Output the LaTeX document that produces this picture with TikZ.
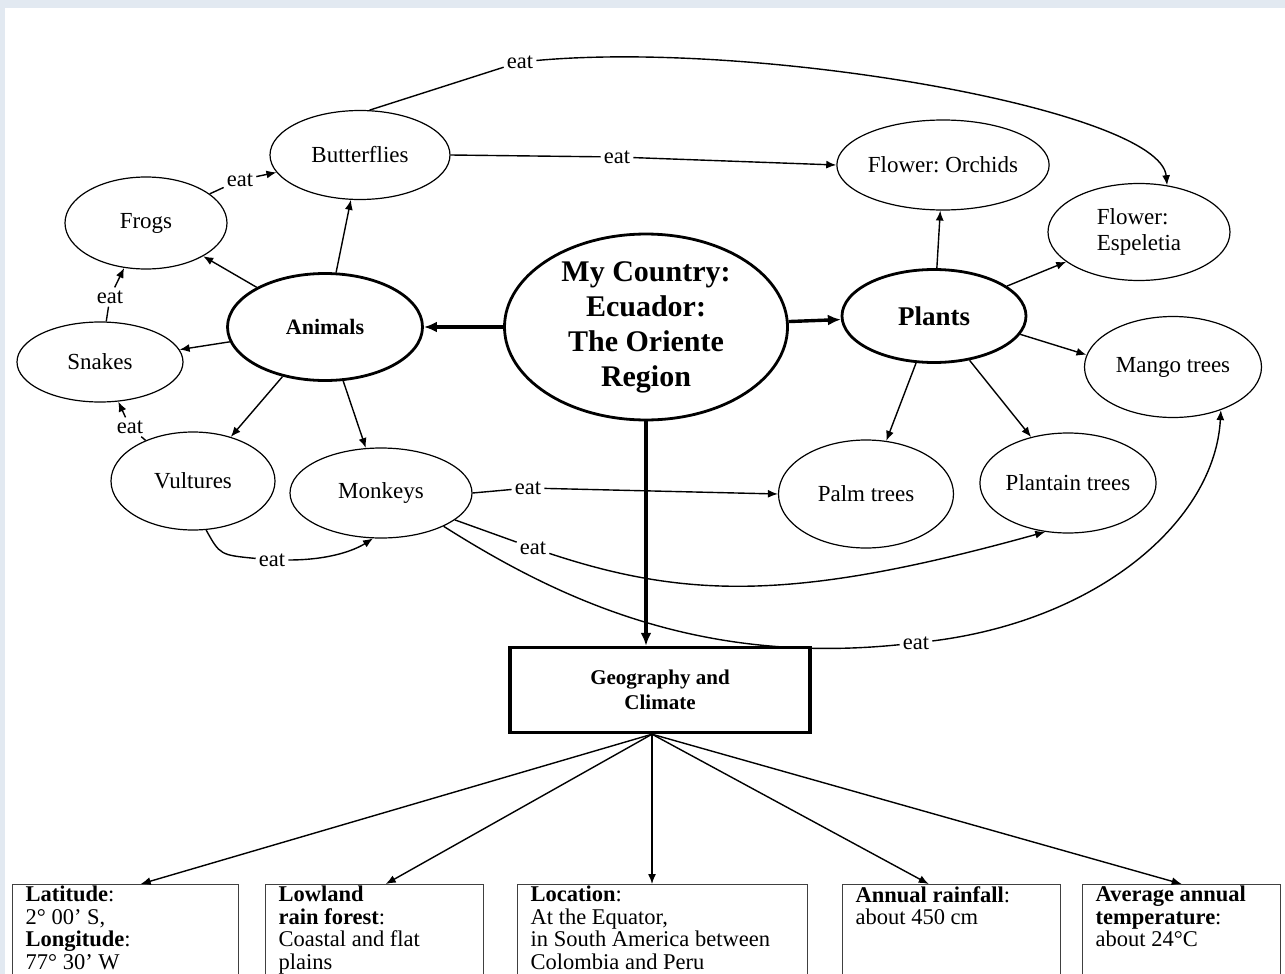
\documentclass[tikz,border=0pt]{standalone}
\usepackage{fontspec}
\setmainfont{Liberation Serif}
\usepackage{xcolor}
\usetikzlibrary{arrows.meta,shapes.geometric}
\definecolor{pagebg}{HTML}{E2E9F1}
\frenchspacing

\begin{document}
\begin{tikzpicture}[x=1pt,y=-1pt,
  ell/.style={ellipse, draw, line width=1.2pt, inner sep=0pt, align=center,
              font=\fontsize{23}{26}\selectfont},
  hub/.style={ell, line width=2.8pt, font=\bfseries\fontsize{22}{26}\selectfont},
  eat/.style={inner sep=3pt, font=\fontsize{22.5}{24}\selectfont},
  link/.style={line width=1.4pt},
  flow/.style={link, -{Latex[length=10pt,width=8pt]}},
  main/.style={line width=3.4pt, -{Latex[length=13pt,width=11pt]}},
  geobox/.style={rectangle, draw, line width=3.4pt, align=center, minimum width=300pt,
                 minimum height=85pt, font=\bfseries\fontsize{21}{25}\selectfont},
  info/.style={rectangle, draw=black!75, line width=1.4pt, anchor=north west,
               inner xsep=13pt, inner ysep=1.5pt, font=\fontsize{22.5}{22.5}\selectfont}
]
\useasboundingbox (0,0) rectangle (1285,974);
\clip (0,0) rectangle (1285,974);
\fill[pagebg] (0,0) rectangle (1285,974);
\fill[white] (5,8) rectangle (1285,974);

\node[hub, minimum width=283pt, minimum height=185pt,
      font=\bfseries\fontsize{30}{35}\selectfont] (country) at (646,327)
      {My Country:\\ Ecuador:\\ The Oriente\\ Region};
\node[hub, minimum width=195pt, minimum height=107pt] (animals) at (325,327) {Animals};
\node[hub, minimum width=184pt, minimum height=93pt,
      font=\bfseries\fontsize{27}{30}\selectfont] (plants) at (934,316) {Plants};
\node[ell, minimum width=180pt, minimum height=89pt] (butter) at (360,155) {Butterflies};
\node[ell, minimum width=162pt, minimum height=92pt] (frogs) at (146,223) {Frogs};
\node[ell, minimum width=166pt, minimum height=80pt] (snakes) at (100,362) {Snakes};
\node[ell, minimum width=164pt, minimum height=98pt] (vult) at (193,481) {Vultures};
\node[ell, minimum width=182pt, minimum height=90pt] (monk) at (381,493) {Monkeys};
\node[ell, minimum width=200pt, minimum height=90pt] (orchid) at (943,165) {Flower: Orchids};
\node[ell, minimum width=182pt, minimum height=97pt, align=left] (espel) at (1139,232)
      {Flower:\\ Espeletia};
\node[ell, minimum width=177pt, minimum height=101pt] (mango) at (1173,367) {Mango trees};
\node[ell, minimum width=175pt, minimum height=108pt] (palm) at (866,494) {Palm trees};
\node[ell, minimum width=175pt, minimum height=100pt] (plantain) at (1068,483) {Plantain trees};
\node[geobox] (geo) at (660,690) {Geography and\\ Climate};

\node[eat] (eBE) at (520,62) {eat};
\node[eat] (eBO) at (617,157) {eat};
\node[eat] (eFB) at (240,180) {eat};
\node[eat] (eSF) at (110,297) {eat};
\node[eat] (eVS) at (130,427) {eat};
\node[eat] (eVM) at (272,560) {eat};
\node[eat] (eMP) at (528,488) {eat};
\node[eat] (eMPl) at (533,548) {eat};
\node[eat] (eMMa) at (916,643) {eat};

\node[info] (lat) at (12,884) {\parbox[t][100pt][t]{200pt}{\raggedright
  \textbf{Latitude}:\\ 2° 00’ S,\\ \textbf{Longitude}:\\ 77° 30’ W}};
\node[info] (low) at (265,884) {\parbox[t][100pt][t]{192pt}{\raggedright
  \textbf{Lowland}\\ \textbf{rain forest}:\\ Coastal and flat\\ plains}};
\node[info] (loc) at (517,884) {\parbox[t][100pt][t]{264pt}{\raggedright
  \textbf{Location}:\\ At the Equator,\\ in South America between\\ Colombia and Peru}};
\node[info] (rain) at (842,884) {\parbox[t][100pt][t]{192pt}{\raggedright
  \textbf{Annual rainfall}:\\ about 450 cm}};
\node[info] (temp) at (1082,884) {\parbox[t][100pt][t]{172pt}{\raggedright
  \textbf{Average annual}\\ \textbf{temperature}:\\ about 24°C}};

\draw[main] (country) -- (animals);
\draw[main] (country) -- (plants);
\draw[main] (country.south) -- (country.south |- geo.north);

\draw[flow] (animals) -- (butter);
\draw[flow] (animals) -- (frogs);
\draw[flow] (animals) -- (snakes);
\draw[flow] (animals) -- (vult);
\draw[flow] (animals) -- (monk);
\draw[flow] (plants) -- (orchid);
\draw[flow] (plants) -- (espel);
\draw[flow] (plants.-12) -- (mango.172);
\draw[flow] (plants) -- (palm);
\draw[flow] (plants) -- (plantain);

\draw[link] (butter.78) -- (eBE);
\draw[flow] (eBE) .. controls (760,40) and (1160,110) .. (espel.59);
\draw[link] (butter.east) -- (eBO);
\draw[flow] (eBO) -- (orchid.west);
\draw[link] (frogs) -- (eFB);
\draw[flow] (eFB) -- (butter);
\draw[link] (snakes) -- (eSF);
\draw[flow] (eSF) -- (frogs);
\draw[link] (vult) -- (eVS);
\draw[flow] (eVS) -- (snakes);
\draw[link] (vult.-75) .. controls (220,555) .. (eVM);
\draw[flow] (eVM) .. controls (330,560) and (355,550) .. (monk.-100);
\draw[link] (monk.east) -- (eMP);
\draw[flow] (eMP) -- (palm.west);
\draw[link] (monk.-20) -- (eMPl);
\draw[flow] (eMPl) .. controls (690,600) and (800,600) .. (plantain.-115);
\draw[link] (monk.-28) .. controls (560,600) and (700,665) .. (eMMa);
\draw[flow] (eMMa) .. controls (1100,620) and (1215,520) .. (mango.-42);

\draw[flow] ([xshift=-8pt]geo.south) -- ([xshift=15pt]lat.north);
\draw[flow] ([xshift=-8pt]geo.south) -- ([xshift=11pt]low.north);
\draw[flow] ([xshift=-8pt]geo.south) -- ([xshift=-8pt]geo.south |- loc.north);
\draw[flow] ([xshift=-8pt]geo.south) -- ([xshift=-23pt]rain.north);
\draw[flow] ([xshift=-8pt]geo.south) -- (temp.north);
\end{tikzpicture}
\end{document}
